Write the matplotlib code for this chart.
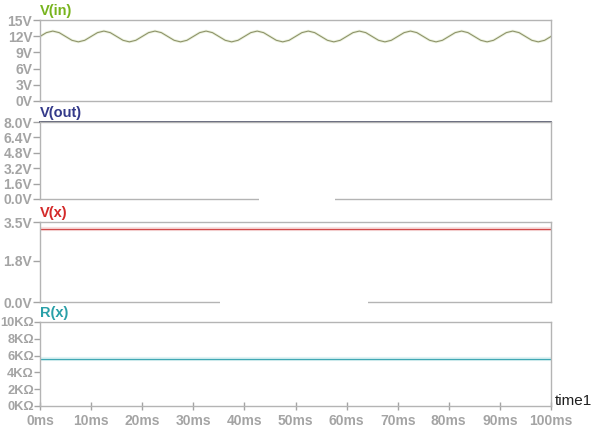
import numpy as np
import matplotlib
matplotlib.use("Agg")
import matplotlib.pyplot as plt
from matplotlib.patches import Rectangle

plt.rcParams['font.family'] = ['Liberation Sans', 'DejaVu Sans']

# ---- data ----
# V(in) samples every 1.25 ms over 0..100 ms
vin = [
    11.95, 12.66, 12.95, 12.66, 11.95, 11.24, 10.95, 11.24,
    11.95, 12.66, 12.95, 12.66, 11.95, 11.24, 10.95, 11.24,
    11.95, 12.66, 12.95, 12.66, 11.95, 11.24, 10.95, 11.24,
    11.95, 12.66, 12.95, 12.66, 11.95, 11.24, 10.95, 11.24,
    11.95, 12.66, 12.95, 12.66, 11.95, 11.24, 10.95, 11.24,
    11.95, 12.66, 12.95, 12.66, 11.95, 11.24, 10.95, 11.24,
    11.95, 12.66, 12.95, 12.66, 11.95, 11.24, 10.95, 11.24,
    11.95, 12.66, 12.95, 12.66, 11.95, 11.24, 10.95, 11.24,
    11.95, 12.66, 12.95, 12.66, 11.95, 11.24, 10.95, 11.24,
    11.95, 12.66, 12.95, 12.66, 11.95, 11.24, 10.95, 11.24,
    11.95,
]
t_vin = np.linspace(0, 100, len(vin))

t_flat = [0, 100]
vout = [7.95, 7.95]
vx = [3.2, 3.2]
rx = [5600, 5600]

vin_ticks = [0, 3, 6, 9, 12, 15]
vin_labels = ["0V", "3V", "6V", "9V", "12V", "15V"]
vout_ticks = [0.0, 1.6, 3.2, 4.8, 6.4, 8.0]
vout_labels = ["0.0V", "1.6V", "3.2V", "4.8V", "6.4V", "8.0V"]
vx_ticks = [0.0, 1.8, 3.5]
vx_labels = ["0.0V", "1.8V", "3.5V"]
rx_ticks = [0, 2000, 4000, 6000, 8000, 10000]
rx_labels = ["0KΩ", "2KΩ", "4KΩ", "6KΩ", "8KΩ", "10KΩ"]
time_ticks = [0, 10, 20, 30, 40, 50, 60, 70, 80, 90, 100]
time_labels = [f"{v}ms" for v in time_ticks]

W, H = 592, 428
fig = plt.figure(figsize=(W / 100, H / 100), dpi=100)
fig.patch.set_facecolor("white")

spine_c = "#b4b4b4"
tick_c = "#a4a4a4"

def make_ax(top, bottom, ylim, ticks, labels, title, tcolor, lsize=10, tlen=5):
    left, right = 40, 551
    ax = fig.add_axes([left / W, (H - bottom) / H, (right - left) / W, (bottom - top) / H])
    ax.set_xlim(0, 100)
    ax.set_ylim(*ylim)
    for s in ax.spines.values():
        s.set_color(spine_c)
        s.set_linewidth(1.0)
    ax.set_yticks(ticks)
    ax.set_yticklabels(labels)
    ax.tick_params(axis='y', direction='out', length=tlen, width=1, color=tick_c,
                   labelcolor=tick_c, labelsize=lsize, pad=0.5)
    for lab in ax.get_yticklabels():
        lab.set_fontweight('bold')
    ax.set_xticks([])
    ax.text(0.0, 1.02, title, transform=ax.transAxes, color=tcolor,
            fontsize=10.5, fontweight='bold', ha='left', va='bottom')
    return ax

ax1 = make_ax(20, 101, (0, 15), vin_ticks, vin_labels, "V(in)", "#78b41e")
ax1.plot(t_vin, vin, color="#dce8c4", lw=2.0, alpha=0.6)
ax1.plot(t_vin, vin, color="#8c9068", lw=0.75)

ax2 = make_ax(122, 199, (0, 8), vout_ticks, vout_labels, "V(out)", "#343a8a")
ax2.plot(t_flat, vout, color="#4d5068", lw=1.3, clip_on=False)

ax3 = make_ax(222, 302, (0, 3.5), vx_ticks, vx_labels, "V(x)", "#d42a2a")
ax3.plot(t_flat, vx, color="#f4d4d4", lw=3, alpha=0.7)
ax3.plot(t_flat, vx, color="#d24a4a", lw=0.9)

ax4 = make_ax(322, 406, (0, 10000), rx_ticks, rx_labels, "R(x)", "#2aa0a8",
              lsize=9.3, tlen=4)
ax4.plot(t_flat, rx, color="#d4eef0", lw=3, alpha=0.7)
ax4.plot(t_flat, rx, color="#40a8b4", lw=0.9)
ax4.set_xticks(time_ticks)
ax4.set_xticklabels(time_labels)
ax4.tick_params(axis='x', direction='inout', length=6, width=1, color=tick_c,
                labelcolor=tick_c, labelsize=10, pad=2.5)
for lab in ax4.get_xticklabels():
    lab.set_fontweight('bold')

fig.text(555 / W, (H - 401) / H, "time1", color="#202020", fontsize=11,
         ha='left', va='center')

# blank boxes sitting over the panel borders
for (x0, y0, x1, y1) in [(259, 195, 335, 221), (220, 299, 368, 320)]:
    fig.patches.append(Rectangle((x0 / W, (H - y1) / H), (x1 - x0) / W, (y1 - y0) / H,
                                 transform=fig.transFigure, facecolor="white",
                                 edgecolor="none", zorder=10))

fig.savefig("out.png", dpi=100, facecolor="white")
